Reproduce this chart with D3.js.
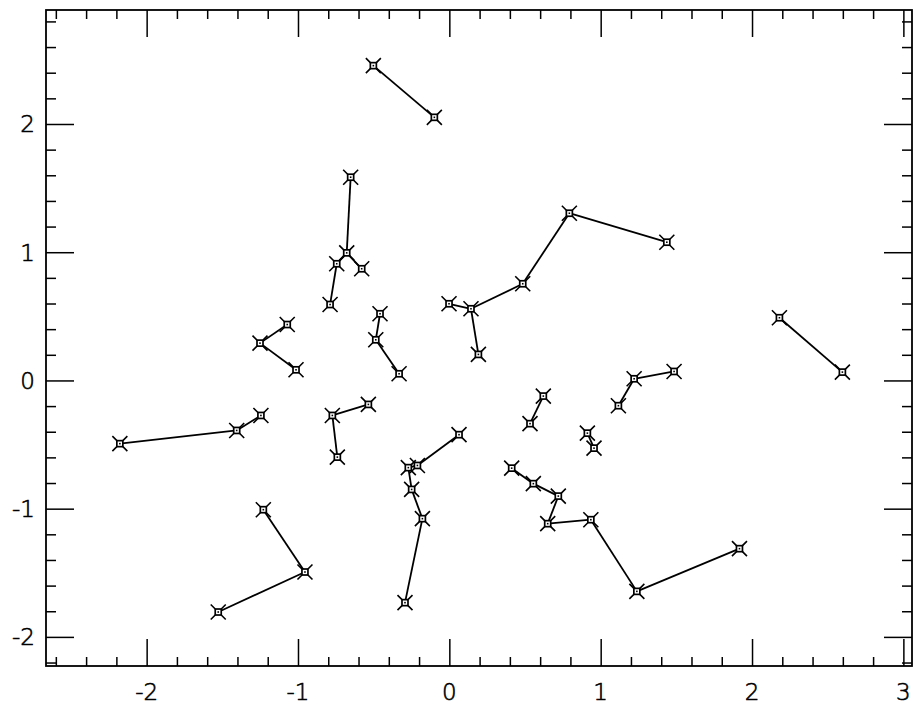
<!DOCTYPE html>
<html>
<head>
<meta charset="utf-8">
<script src="https://cdn.jsdelivr.net/npm/d3@7"></script>
<style>
  html, body { margin: 0; padding: 0; background: #fff; }
  svg { display: block; }
</style>
</head>
<body>
<svg id="chart" width="916" height="706"></svg>
<script>
// ---- data ----
const ptX = [-0.502, -0.099, -0.652, -0.678, -0.744, -0.579, -0.788, -1.071, -1.251, -1.013,
             -0.458, -0.486, -0.332, -0.002, 0.143, 0.192, 0.485, 0.793, 1.437, 2.181,
             2.597, 1.221, 1.485, 1.117, 0.621, 0.533, 0.912, 0.956, 0.064, -0.211,
             -0.271, -0.249, -0.178, -0.293, 0.412, 0.555, 0.720, 0.650, 0.935, 1.239,
             1.917, -2.177, -1.405, -1.245, -0.773, -0.535, -0.740, -1.229, -0.954, -1.527];
const ptY = [2.455, 2.052, 1.585, 0.995, 0.910, 0.871, 0.592, 0.436, 0.291, 0.083,
             0.520, 0.317, 0.052, 0.598, 0.559, 0.203, 0.754, 1.304, 1.078, 0.489,
             0.065, 0.013, 0.070, -0.197, -0.122, -0.337, -0.411, -0.528, -0.423, -0.663,
             -0.680, -0.850, -1.078, -1.733, -0.684, -0.805, -0.902, -1.117, -1.086, -1.645,
             -1.312, -0.493, -0.390, -0.273, -0.273, -0.187, -0.598, -1.008, -1.494, -1.806];
// connections between points (index pairs)
const linkFrom = [0, 2, 3, 3, 4, 7, 8, 10, 11, 13, 14, 14, 16, 17, 19, 21, 21, 24, 26, 28, 29, 30, 31, 32, 34, 35, 36, 37, 38, 39, 41, 42, 44, 44, 47, 48];
const linkTo   = [1, 3, 4, 5, 6, 8, 9, 11, 12, 14, 15, 16, 17, 18, 20, 22, 23, 25, 27, 29, 30, 31, 32, 33, 35, 36, 37, 38, 39, 40, 42, 43, 45, 46, 48, 49];
const xTickLabels = [-2, -1, 0, 1, 2, 3];
const yTickLabels = [-2, -1, 0, 1, 2];

// ---- layout ----
const frameL = 46, frameR = 912, frameT = 10, frameB = 666;
const x = d3.scaleLinear().domain([-2.665, 3.057]).range([frameL, frameR]);
const y = d3.scaleLinear().domain([-2.227, 2.889]).range([frameB, frameT]);

const svg = d3.select("#chart");
const ink = "#000";

const minorX = d3.range(-26, 31, 2).map(v => v / 10).filter(v => v > x.domain()[0] && v < x.domain()[1] && Math.abs(Math.round(v) - v) > 1e-6);
const minorY = d3.range(-22, 29, 2).map(v => v / 10).filter(v => v > y.domain()[0] && v < y.domain()[1] && Math.abs(Math.round(v) - v) > 1e-6);

function styleAxis(g) {
  g.select(".domain").remove();
  g.selectAll("line").attr("stroke", ink).attr("stroke-width", 1.5);
}
const fontFam = "'DejaVu Sans', sans-serif";

// bottom
svg.append("g").attr("transform", `translate(0,${frameB})`)
  .call(d3.axisTop(x).tickValues(xTickLabels).tickSize(27).tickFormat(""))
  .call(styleAxis);
svg.append("g").attr("transform", `translate(0,${frameB})`)
  .call(d3.axisTop(x).tickValues(minorX).tickSize(9).tickFormat(""))
  .call(styleAxis);
// top
svg.append("g").attr("transform", `translate(0,${frameT})`)
  .call(d3.axisBottom(x).tickValues(xTickLabels).tickSize(27).tickFormat(""))
  .call(styleAxis);
svg.append("g").attr("transform", `translate(0,${frameT})`)
  .call(d3.axisBottom(x).tickValues(minorX).tickSize(9).tickFormat(""))
  .call(styleAxis);
// left
svg.append("g").attr("transform", `translate(${frameL},0)`)
  .call(d3.axisRight(y).tickValues(yTickLabels).tickSize(28).tickFormat(""))
  .call(styleAxis);
svg.append("g").attr("transform", `translate(${frameL},0)`)
  .call(d3.axisRight(y).tickValues(minorY).tickSize(10).tickFormat(""))
  .call(styleAxis);
// right
svg.append("g").attr("transform", `translate(${frameR},0)`)
  .call(d3.axisLeft(y).tickValues(yTickLabels).tickSize(28).tickFormat(""))
  .call(styleAxis);
svg.append("g").attr("transform", `translate(${frameR},0)`)
  .call(d3.axisLeft(y).tickValues(minorY).tickSize(10).tickFormat(""))
  .call(styleAxis);

// frame
svg.append("rect").attr("x", frameL).attr("y", frameT)
  .attr("width", frameR - frameL).attr("height", frameB - frameT)
  .attr("fill", "none").attr("stroke", ink).attr("stroke-width", 1.8);

// tick labels
svg.append("g").selectAll("text").data(xTickLabels).join("text")
  .attr("x", d => x(d)).attr("y", 700)
  .attr("text-anchor", "middle")
  .attr("font-family", fontFam).attr("font-weight", 200).attr("font-size", 23)
  .attr("fill", ink).attr("stroke", ink).attr("stroke-width", 0.6)
  .text(d => String(d));
svg.append("g").selectAll("text").data(yTickLabels).join("text")
  .attr("x", 35).attr("y", d => y(d) + 8.5)
  .attr("text-anchor", "end")
  .attr("font-family", fontFam).attr("font-weight", 200).attr("font-size", 23)
  .attr("fill", ink).attr("stroke", ink).attr("stroke-width", 0.6)
  .text(d => String(d));

// links
const links = linkFrom.map((f, i) => [f, linkTo[i]]);
svg.append("g").selectAll("line").data(links).join("line")
  .attr("x1", d => x(ptX[d[0]])).attr("y1", d => y(ptY[d[0]]))
  .attr("x2", d => x(ptX[d[1]])).attr("y2", d => y(ptY[d[1]]))
  .attr("stroke", ink).attr("stroke-width", 1.8);

// markers: small square with diagonal spikes at corners
const pts = ptX.map((v, i) => [v, ptY[i]]);
const mk = svg.append("g").selectAll("g").data(pts).join("g")
  .attr("transform", d => `translate(${x(d[0])},${y(d[1])})`);
mk.append("rect").attr("x", -3).attr("y", -3).attr("width", 6).attr("height", 6)
  .attr("fill", "#fff").attr("stroke", ink).attr("stroke-width", 1.7);
mk.append("path")
  .attr("d", "M3,3L7.5,7.5M-3,3L-7.5,7.5M3,-3L7.5,-7.5M-3,-3L-7.5,-7.5")
  .attr("stroke", ink).attr("stroke-width", 1.6).attr("fill", "none");
mk.append("rect").attr("x", -0.8).attr("y", -0.8).attr("width", 1.6).attr("height", 1.6)
  .attr("fill", ink);
</script>
</body>
</html>
